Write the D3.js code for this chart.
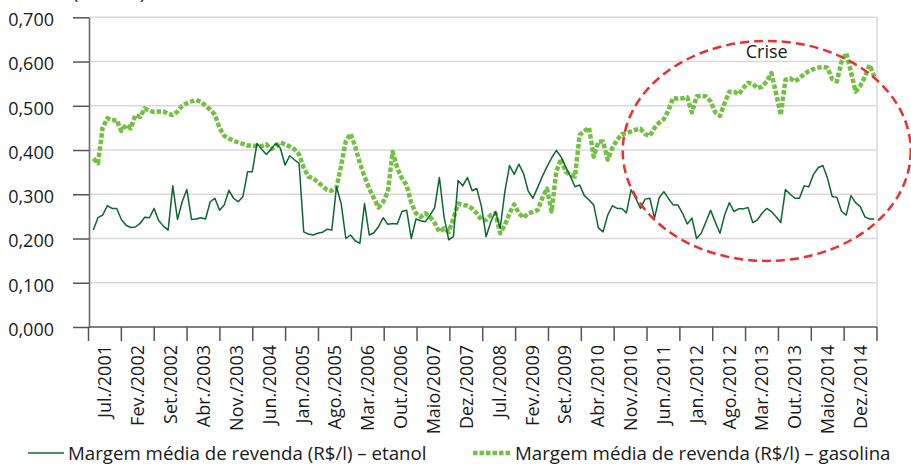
<!DOCTYPE html>
<html>
<head>
<meta charset="utf-8">
<script src="https://cdn.jsdelivr.net/npm/d3@7"></script>
<style>
  html, body { margin: 0; padding: 0; background: #fff; }
  svg { display: block; font-family: "Open Sans", sans-serif; }
</style>
</head>
<body>
<svg id="chart" width="911" height="466"></svg>
<script>
// Monthly series, Jul 2001 onwards (R$/l)
const startYear = 2001;
const startMonth = 7;

const etanol = [
  0.219, 0.247, 0.253, 0.274, 0.268, 0.268, 0.243, 0.230, 0.225, 0.226,
  0.234, 0.248, 0.247, 0.268, 0.240, 0.228, 0.219, 0.319, 0.243, 0.283,
  0.311, 0.243, 0.244, 0.247, 0.244, 0.283, 0.291, 0.264, 0.276, 0.309,
  0.291, 0.283, 0.295, 0.351, 0.351, 0.415, 0.402, 0.390, 0.402, 0.415,
  0.404, 0.366, 0.387, 0.378, 0.370, 0.215, 0.210, 0.208, 0.212, 0.214,
  0.221, 0.219, 0.317, 0.279, 0.200, 0.208, 0.195, 0.189, 0.279, 0.208,
  0.213, 0.227, 0.247, 0.232, 0.234, 0.233, 0.261, 0.264, 0.200, 0.244,
  0.240, 0.238, 0.253, 0.270, 0.338, 0.249, 0.197, 0.204, 0.331, 0.319,
  0.338, 0.308, 0.313, 0.272, 0.204, 0.238, 0.261, 0.223, 0.306, 0.365,
  0.345, 0.368, 0.347, 0.307, 0.291, 0.315, 0.340, 0.362, 0.382, 0.399,
  0.385, 0.362, 0.341, 0.317, 0.321, 0.297, 0.287, 0.276, 0.224, 0.215,
  0.253, 0.274, 0.268, 0.268, 0.258, 0.310, 0.291, 0.268, 0.289, 0.291,
  0.246, 0.292, 0.306, 0.290, 0.276, 0.276, 0.257, 0.233, 0.246, 0.200,
  0.212, 0.238, 0.264, 0.237, 0.212, 0.253, 0.281, 0.261, 0.267, 0.267,
  0.270, 0.236, 0.242, 0.257, 0.268, 0.261, 0.249, 0.236, 0.311, 0.300,
  0.291, 0.291, 0.319, 0.317, 0.345, 0.360, 0.365, 0.336, 0.295, 0.293,
  0.261, 0.253, 0.297, 0.281, 0.272, 0.249, 0.244, 0.244
];

const gasolina = [
  0.381, 0.370, 0.450, 0.472, 0.467, 0.468, 0.443, 0.457, 0.449, 0.479,
  0.475, 0.494, 0.489, 0.486, 0.487, 0.487, 0.482, 0.479, 0.487, 0.500,
  0.506, 0.510, 0.513, 0.509, 0.500, 0.491, 0.480, 0.450, 0.432, 0.426,
  0.421, 0.417, 0.414, 0.410, 0.410, 0.409, 0.409, 0.413, 0.402, 0.408,
  0.417, 0.413, 0.408, 0.402, 0.390, 0.360, 0.340, 0.336, 0.328, 0.318,
  0.310, 0.308, 0.315, 0.365, 0.420, 0.437, 0.408, 0.370, 0.340, 0.313,
  0.291, 0.270, 0.283, 0.306, 0.396, 0.359, 0.336, 0.321, 0.280, 0.257,
  0.249, 0.257, 0.249, 0.235, 0.215, 0.223, 0.215, 0.245, 0.279, 0.276,
  0.274, 0.268, 0.257, 0.242, 0.242, 0.253, 0.257, 0.212, 0.230, 0.257,
  0.277, 0.257, 0.247, 0.257, 0.260, 0.264, 0.291, 0.313, 0.261, 0.351,
  0.380, 0.351, 0.344, 0.340, 0.434, 0.443, 0.451, 0.385, 0.419, 0.419,
  0.378, 0.405, 0.423, 0.436, 0.438, 0.442, 0.446, 0.448, 0.436, 0.432,
  0.450, 0.462, 0.470, 0.490, 0.518, 0.516, 0.517, 0.519, 0.485, 0.521,
  0.523, 0.521, 0.510, 0.485, 0.477, 0.506, 0.532, 0.532, 0.526, 0.540,
  0.552, 0.550, 0.540, 0.543, 0.555, 0.574, 0.528, 0.479, 0.559, 0.562,
  0.555, 0.562, 0.572, 0.578, 0.583, 0.586, 0.588, 0.586, 0.560, 0.555,
  0.600, 0.619, 0.577, 0.532, 0.545, 0.566, 0.592, 0.566
];

const tickLabels = [
  "Jul./2001", "Fev./2002", "Set./2002", "Abr./2003", "Nov./2003", "Jun./2004",
  "Jan./2005", "Ago./2005", "Mar./2006", "Out./2006", "Maio/2007", "Dez./2007",
  "Jul./2008", "Fev./2009", "Set./2009", "Abr./2010", "Nov./2010", "Jun./2011",
  "Jan./2012", "Ago./2012", "Mar./2013", "Out./2013", "Maio/2014", "Dez./2014"
];

const yTicks = [0, 0.1, 0.2, 0.3, 0.4, 0.5, 0.6, 0.7];
const seriesNames = [
  "Margem média de revenda (R$/l) – etanol",
  "Margem média de revenda (R$/l) – gasolina"
];
const unitLabel = "(R$/litro)";
const crisisLabel = "Crise";

// month keys for the category axis
const months = etanol.map((_, i) => {
  const m = startMonth - 1 + i;
  return `${startYear + Math.floor(m / 12)}-${String(m % 12 + 1).padStart(2, "0")}`;
});

const plot = { left: 89, right: 877, top: 17.3, bottom: 327 };
const fontSize = 18;
const legendFontSize = 18.7;

const svg = d3.select("#chart");

const x = d3.scalePoint().domain(months).range([plot.left + 4.3, plot.right - 2.7]);
const xGroups = d3.scaleBand().domain(tickLabels).range([plot.left - 0.5, plot.right]);
const y = d3.scaleLinear().domain([0, 0.7]).range([plot.bottom, plot.top]);

const fmt = d => d3.format(".3f")(d).replace(".", ",");

// horizontal gridlines
svg.append("g")
  .selectAll("line")
  .data(yTicks.filter(d => d > 0))
  .join("line")
  .attr("x1", plot.left).attr("x2", plot.right)
  .attr("y1", d => y(d)).attr("y2", d => y(d))
  .attr("stroke", "#d9d9d9").attr("stroke-width", 1.5);

// right border of the plot area
svg.append("line")
  .attr("x1", plot.right).attr("x2", plot.right)
  .attr("y1", y(0.7)).attr("y2", y(0))
  .attr("stroke", "#d9d9d9").attr("stroke-width", 1.5);

// y axis
const yAxis = svg.append("g")
  .attr("transform", `translate(${plot.left},0)`)
  .call(d3.axisLeft(y).tickValues(yTicks).tickFormat(fmt)
    .tickSize(16).tickSizeOuter(0).tickPadding(19));
yAxis.select(".domain").attr("stroke", "#6b6b6b").attr("stroke-width", 1.6);
yAxis.selectAll(".tick line").attr("stroke", "#555").attr("stroke-width", 1.5);
yAxis.selectAll(".tick text")
  .attr("font-family", "Open Sans, sans-serif")
  .attr("font-size", fontSize).attr("fill", "#1a1a1a")
  .attr("dy", "0.46em");

// x axis: baseline, group ticks and rotated labels
svg.append("line")
  .attr("x1", plot.left).attr("x2", plot.right)
  .attr("y1", y(0)).attr("y2", y(0))
  .attr("stroke", "#555").attr("stroke-width", 1.6);

const tickPositions = tickLabels.map(d => xGroups(d)).concat([xGroups.range()[1]]);
svg.append("g")
  .selectAll("line")
  .data(tickPositions)
  .join("line")
  .attr("x1", d => d).attr("x2", d => d)
  .attr("y1", y(0)).attr("y2", y(0) + 14)
  .attr("stroke", "#555").attr("stroke-width", 1.5);

const xAxis = svg.append("g")
  .attr("transform", `translate(0,${y(0)})`)
  .call(d3.axisBottom(xGroups).tickSize(0).tickPadding(0));
xAxis.select(".domain").remove();
xAxis.selectAll(".tick text")
  .attr("font-family", "Open Sans, sans-serif")
  .attr("font-size", fontSize).attr("fill", "#1a1a1a")
  .attr("text-anchor", "end")
  .attr("transform", "translate(0,18) rotate(-90)")
  .attr("x", 0).attr("y", 0).attr("dy", "0.36em");

// series lines
const line = d3.line().x((d, i) => x(months[i])).y(d => y(d));

svg.append("path")
  .datum(gasolina)
  .attr("d", line)
  .attr("fill", "none")
  .attr("stroke", "#74c044")
  .attr("stroke-width", 4.5)
  .attr("stroke-dasharray", "4.5,2")
  .attr("stroke-linejoin", "round");

svg.append("path")
  .datum(etanol)
  .attr("d", line)
  .attr("fill", "none")
  .attr("stroke", "#0d6630")
  .attr("stroke-width", 1.5)
  .attr("stroke-linejoin", "round");

// crisis highlight
svg.append("ellipse")
  .attr("cx", x(months[144]))
  .attr("cy", y(0.398))
  .attr("rx", 144).attr("ry", 110)
  .attr("fill", "none")
  .attr("stroke", "#e8302c")
  .attr("stroke-width", 2.5)
  .attr("stroke-dasharray", "9,5");

svg.append("text")
  .attr("x", x(months[144]))
  .attr("y", y(0.607))
  .attr("text-anchor", "middle")
  .attr("font-size", fontSize)
  .attr("fill", "#1a1a1a")
  .text(crisisLabel);

// unit label (sits at the top edge)
svg.append("text")
  .attr("x", 73).attr("y", -1)
  .attr("font-size", fontSize)
  .attr("fill", "#1a1a1a")
  .text(unitLabel);

// legend
const legendY = 453;
const legend = svg.append("g");
legend.append("line")
  .attr("x1", 28).attr("x2", 64).attr("y1", legendY).attr("y2", legendY)
  .attr("stroke", "#0d6630").attr("stroke-width", 1.5);
legend.append("text")
  .attr("x", 68).attr("y", legendY + 6.5)
  .attr("font-size", legendFontSize).attr("fill", "#1a1a1a")
  .text(seriesNames[0]);
legend.append("line")
  .attr("x1", 473).attr("x2", 510).attr("y1", legendY).attr("y2", legendY)
  .attr("stroke", "#74c044").attr("stroke-width", 4.5)
  .attr("stroke-dasharray", "4.5,2");
legend.append("text")
  .attr("x", 515).attr("y", legendY + 6.5)
  .attr("font-size", legendFontSize).attr("fill", "#1a1a1a")
  .text(seriesNames[1]);
</script>
</body>
</html>
